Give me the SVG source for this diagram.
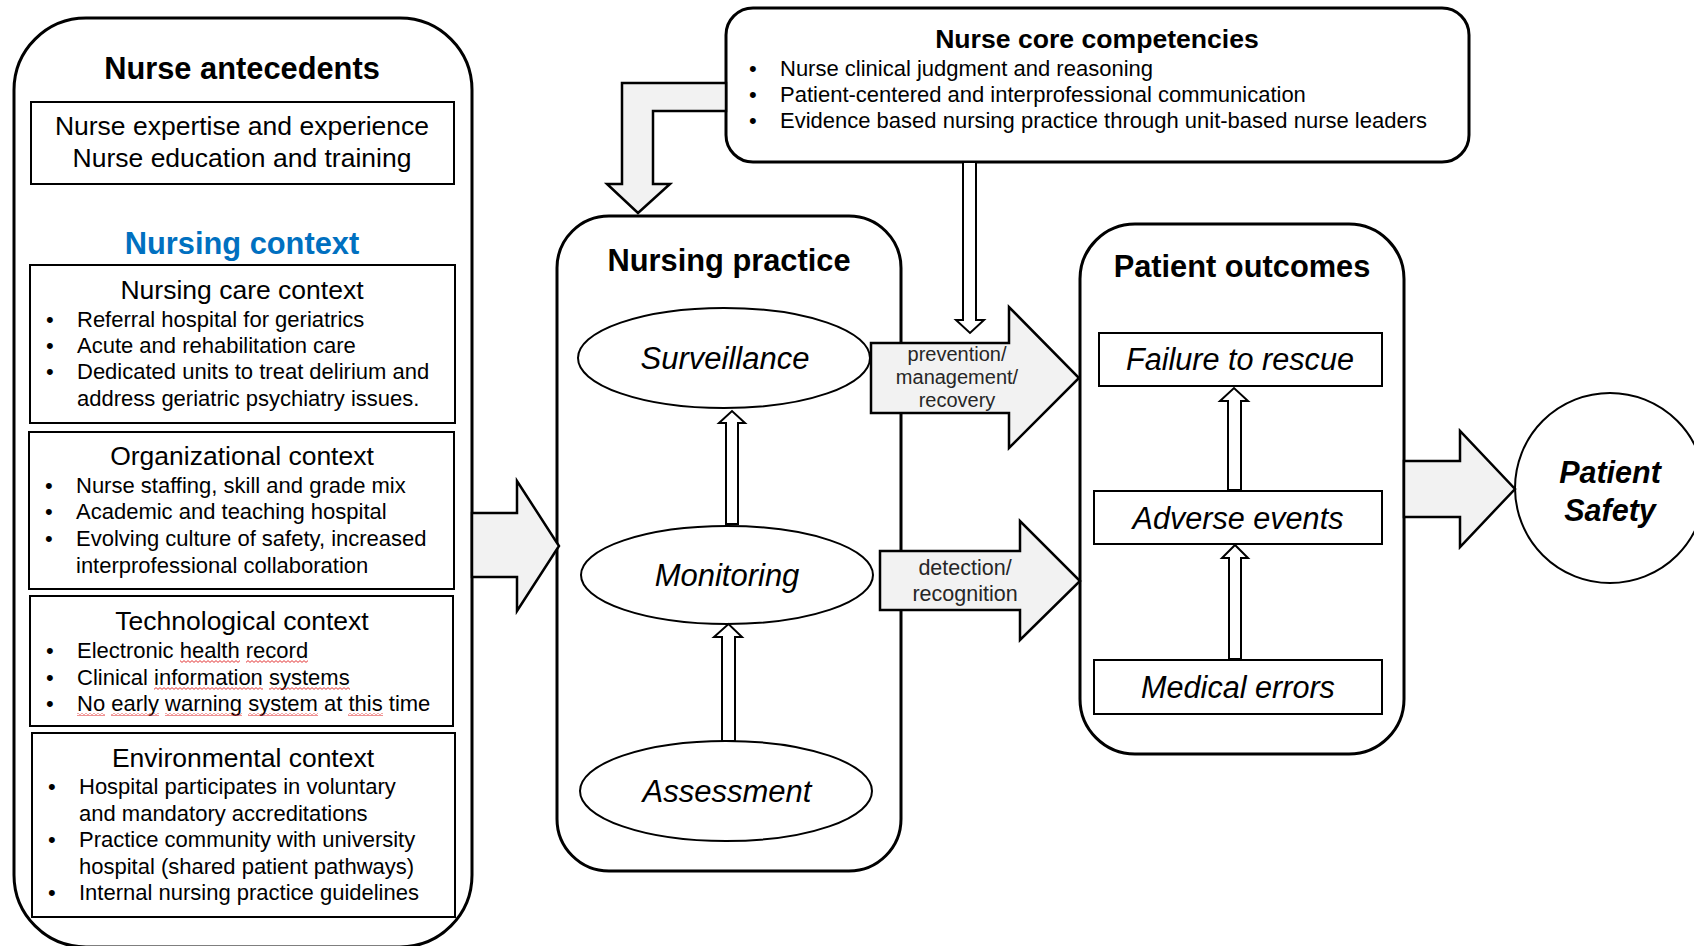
<svg xmlns="http://www.w3.org/2000/svg" width="1694" height="946" viewBox="0 0 1694 946">
<style>
text{font-family:"Liberation Sans",Arial,sans-serif;fill:#000}
.big{stroke:#000;stroke-width:3;fill:#fff}
.box{stroke:#000;stroke-width:2;fill:#fff}
.ell{stroke:#000;stroke-width:2;fill:#fff}
.blk{stroke:#000;stroke-width:2.5;fill:#F2F2F2;stroke-linejoin:miter}
.hol{stroke:#000;stroke-width:2;fill:#fff}
.t30b{font-size:30.8px;font-weight:bold;text-anchor:middle}
.t26b{font-size:26.6px;font-weight:bold;text-anchor:middle}
.t26{font-size:26.5px;text-anchor:middle}
.t22{font-size:22px}
.it{font-size:31px;font-style:italic;text-anchor:middle}
.it2{font-size:30.6px;font-style:italic;text-anchor:middle}
.lab{font-size:20px;text-anchor:middle;fill:#262626}
.lab2{font-size:21.5px;text-anchor:middle;fill:#262626}
.ps{font-size:30.5px;font-weight:bold;font-style:italic;text-anchor:middle}
.sq{fill:url(#squig)}
</style>
<defs>
<pattern id="squig" width="4" height="3" patternUnits="userSpaceOnUse">
<path d="M0,0.6 L2,2.4 L4,0.6" fill="none" stroke="#e02020" stroke-width="0.9"/>
</pattern>
</defs>
<rect width="1694" height="946" fill="#fff"/>

<g id="nurse-antecedents">
<rect class="big" x="14" y="18" width="458" height="929" rx="72"/>
<text class="t30b" x="242" y="79">Nurse antecedents</text>
<rect class="box" x="31" y="102" width="423" height="82"/>
<text class="t26" x="242" y="135">Nurse expertise and experience</text>
<text class="t26" x="242" y="167">Nurse education and training</text>
<text class="t30b" x="242" y="254" style="fill:#0070C0">Nursing context</text>
</g>

<g id="nursing-care-context">
<rect class="box" x="30" y="265" width="425" height="158"/>
<text class="t26" x="242" y="299">Nursing care context</text>
<text class="t22" x="46" y="327">•</text>
<text class="t22" x="46" y="353">•</text>
<text class="t22" x="46" y="379">•</text>
<text class="t22" x="77" y="327">Referral hospital for geriatrics</text>
<text class="t22" x="77" y="353">Acute and rehabilitation care</text>
<text class="t22" x="77" y="379">Dedicated units to treat delirium and</text>
<text class="t22" x="77" y="406">address geriatric psychiatry issues.</text>
</g>

<g id="organizational-context">
<rect class="box" x="29" y="432" width="425" height="157"/>
<text class="t26" x="242" y="465">Organizational context</text>
<text class="t22" x="45" y="493">•</text>
<text class="t22" x="45" y="519">•</text>
<text class="t22" x="45" y="546">•</text>
<text class="t22" x="76" y="493">Nurse staffing, skill and grade mix</text>
<text class="t22" x="76" y="519">Academic and teaching hospital</text>
<text class="t22" x="76" y="546">Evolving culture of safety, increased</text>
<text class="t22" x="76" y="573">interprofessional collaboration</text>
</g>

<g id="technological-context">
<rect class="box" x="30" y="596" width="423" height="130"/>
<text class="t26" x="242" y="630">Technological context</text>
<text class="t22" x="46" y="658">•</text>
<text class="t22" x="46" y="685">•</text>
<text class="t22" x="46" y="711">•</text>
<text class="t22" x="77" y="658">Electronic health record</text>
<text class="t22" x="77" y="685">Clinical information systems</text>
<text class="t22" x="77" y="711">No early warning system at this time</text>
<rect class="sq" x="180" y="660" width="60" height="3"/>
<rect class="sq" x="246" y="660" width="62" height="3"/>
<rect class="sq" x="154" y="687" width="109" height="3"/>
<rect class="sq" x="269" y="687" width="81" height="3"/>
<rect class="sq" x="77" y="713" width="28" height="3"/>
<rect class="sq" x="111" y="713" width="48" height="3"/>
<rect class="sq" x="165" y="713" width="77" height="3"/>
<rect class="sq" x="248" y="713" width="70" height="3"/>
<rect class="sq" x="348" y="713" width="35" height="3"/>
</g>

<g id="environmental-context">
<rect class="box" x="32" y="733" width="423" height="184"/>
<text class="t26" x="243" y="767">Environmental context</text>
<text class="t22" x="48" y="794">•</text>
<text class="t22" x="48" y="847">•</text>
<text class="t22" x="48" y="900">•</text>
<text class="t22" x="79" y="794">Hospital participates in voluntary</text>
<text class="t22" x="79" y="821">and mandatory accreditations</text>
<text class="t22" x="79" y="847">Practice community with university</text>
<text class="t22" x="79" y="874">hospital (shared patient pathways)</text>
<text class="t22" x="79" y="900">Internal nursing practice guidelines</text>
</g>

<g id="nurse-core-competencies">
<rect class="big" x="726" y="8" width="743" height="154" rx="27"/>
<text class="t26b" x="1097" y="48">Nurse core competencies</text>
<text class="t22" x="749" y="76">•</text>
<text class="t22" x="749" y="102">•</text>
<text class="t22" x="749" y="128">•</text>
<text class="t22" x="780" y="76">Nurse clinical judgment and reasoning</text>
<text class="t22" x="780" y="102">Patient-centered and interprofessional communication</text>
<text class="t22" x="780" y="128">Evidence based nursing practice through unit-based nurse leaders</text>
</g>

<g id="nursing-practice">
<rect class="big" x="557" y="216" width="344" height="655" rx="52"/>
<text class="t30b" x="729" y="271">Nursing practice</text>
</g>
<g id="surveillance">
<ellipse class="ell" cx="724" cy="358" rx="146" ry="50"/>
<text class="it" x="725" y="369">Surveillance</text>
</g>
<g id="monitoring">
<ellipse class="ell" cx="727" cy="575" rx="146" ry="49"/>
<text class="it" x="727" y="586">Monitoring</text>
</g>
<g id="assessment">
<ellipse class="ell" cx="726" cy="791" rx="146" ry="50"/>
<text class="it" x="727" y="802">Assessment</text>
</g>

<g id="patient-outcomes">
<rect class="big" x="1080" y="224" width="324" height="530" rx="55"/>
<text class="t30b" x="1242" y="277">Patient outcomes</text>
</g>
<g id="failure-to-rescue">
<rect class="box" x="1099" y="333" width="283" height="53"/>
<text class="it2" x="1240" y="370">Failure to rescue</text>
</g>
<g id="adverse-events">
<rect class="box" x="1094" y="491" width="288" height="53"/>
<text class="it2" x="1238" y="529">Adverse events</text>
</g>
<g id="medical-errors">
<rect class="box" x="1094" y="660" width="288" height="54"/>
<text class="it2" x="1238" y="698">Medical errors</text>
</g>

<g id="patient-safety">
<circle cx="1610" cy="488" r="95" fill="#fff" stroke="#000" stroke-width="2"/>
<text class="ps" x="1610" y="483">Patient</text>
<text class="ps" x="1610" y="521">Safety</text>
</g>

<g id="connectors">
<polygon class="blk" points="726,83 622,83 622,184 607,184 638,213 670,184 653,184 653,111 726,111"/>
<polygon class="hol" points="963,162 976,162 976,320 984,320 970,333 956,320 963,320"/>
<polygon class="blk" points="472,513 517,513 517,481 559,546 517,611 517,577 472,577"/>
<polygon class="blk" points="871,343 1009,343 1009,307 1079,378 1009,448 1009,413 871,413"/>
<text class="lab" x="957" y="361">prevention/</text>
<text class="lab" x="957" y="384">management/</text>
<text class="lab" x="957" y="407">recovery</text>
<polygon class="blk" points="880,551 1020,551 1020,521 1080,581 1020,640 1020,610 880,610"/>
<text class="lab2" x="965" y="575">detection/</text>
<text class="lab2" x="965" y="601">recognition</text>
<polygon class="blk" points="1404,461 1460,461 1460,431 1515,489 1460,547 1460,517 1404,517"/>
<polygon class="hol" points="726,524 726,423 719,423 732,411 745,423 738,423 738,524"/>
<polygon class="hol" points="722,741 722,637 714,637 728.5,624 742,637 735,637 735,741"/>
<polygon class="hol" points="1228,490 1228,401 1220,401 1234,388 1248,401 1241,401 1241,490"/>
<polygon class="hol" points="1229,659 1229,558 1222,558 1235,545 1248,558 1241,558 1241,659"/>
</g>
</svg>
